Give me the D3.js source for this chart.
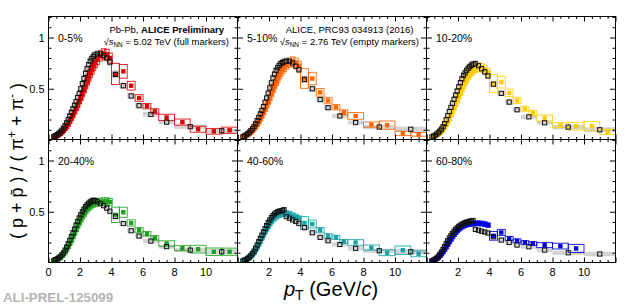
<!DOCTYPE html>
<html>
<head>
<meta charset="utf-8">
<script src="https://cdn.jsdelivr.net/npm/d3@7"></script>
<style>
  body { margin: 0; background: #fff; }
  text { font-family: "Liberation Sans", Arial, Helvetica, sans-serif; }
</style>
</head>
<body>
<div id="chart"></div>
<script>
// centrality classes and colours of the 5.02 TeV points
const centralities = ['0-5%', '5-10%', '10-20%', '20-40%', '40-60%', '60-80%']
const colors502 = ['#dd0000', '#ff6400', '#ffcc00', '#1aa31a', '#17a2a6', '#0000dd']

// 2.76 TeV binning (open black squares)
const pt276 = [0.35,0.45,0.55,0.65,0.75,0.85,0.95,1.05,1.15,1.25,1.35,1.45,1.55,1.65,1.75,1.85,1.95,2.05,2.15,2.25,2.35,2.45,2.55,2.65,2.75,2.85,2.95,
  3.1,3.3,3.5,3.7,3.9, 4.25,4.75,5.25,5.75, 6.5,7.5,9,11]
const bw276 = [0.1,0.1,0.1,0.1,0.1,0.1,0.1,0.1,0.1,0.1,0.1,0.1,0.1,0.1,0.1,0.1,0.1,0.1,0.1,0.1,0.1,0.1,0.1,0.1,0.1,0.1,0.1,
  0.2,0.2,0.2,0.2,0.2, 0.5,0.5,0.5,0.5, 1,1,2,2]
const sys276 = [0.05,0.05,0.05,0.05,0.05,0.05,0.05,0.05,0.05,0.05,0.05,0.05,0.05,0.05,0.05,0.05,0.05,0.05,0.05,0.05,0.05,0.05,0.05,0.05,0.05,0.05,0.05,
  0.05,0.05,0.05,0.05,0.05, 0.06,0.06,0.07,0.08, 0.09,0.12,0.17,0.24]

// 5.02 TeV binning (full coloured squares)
const pt502 = [0.35,0.45,0.55,0.65,0.75,0.85,0.95,1.05,1.15,1.25,1.35,1.45,1.55,1.65,1.75,1.85,1.95,2.05,2.15,2.25,2.35,2.45,2.55,2.65,2.75,2.85,2.95,
  3.1,3.3,3.5,3.7,3.9, 4.25,4.75,5.25,5.75,6.25,6.75, 7.5,8.5,9.5,10.5,11.5]
const bw502 = [0.1,0.1,0.1,0.1,0.1,0.1,0.1,0.1,0.1,0.1,0.1,0.1,0.1,0.1,0.1,0.1,0.1,0.1,0.1,0.1,0.1,0.1,0.1,0.1,0.1,0.1,0.1,
  0.2,0.2,0.2,0.2,0.2, 0.5,0.5,0.5,0.5,0.5,0.5, 1,1,1,1,1]
const sys502 = [0.06,0.06,0.06,0.06,0.06,0.06,0.06,0.06,0.06,0.06,0.06,0.06,0.06,0.06,0.06,0.06,0.06,0.06,0.06,0.06,0.06,0.06,0.06,0.06,0.06,0.06,0.06,
  0.06,0.06,0.06,0.06,0.06, 0.16,0.1,0.08,0.08,0.08,0.09, 0.14,0.17,0.28,0.33,0.32]

// (p + pbar)/(pi+ + pi-) at 2.76 TeV
const ratio276_0005 = [0.035,0.042,0.052,0.064,0.078,0.095,0.115,0.14,0.168,0.2,0.235,0.27,0.305,0.34,0.375,0.415,0.455,0.5,0.55,0.6,0.65,0.695,0.735,0.77,0.795,0.815,0.83,
  0.84,0.84,0.825,0.8,0.76, 0.64,0.53,0.43,0.335, 0.25,0.175,0.13,0.09]
const ratio276_0510 = [0.032,0.04,0.05,0.062,0.076,0.092,0.11,0.132,0.158,0.19,0.22,0.255,0.288,0.325,0.368,0.41,0.458,0.508,0.558,0.605,0.643,0.678,0.705,0.728,0.745,0.755,0.763,
  0.77,0.768,0.752,0.72,0.685, 0.59,0.5,0.395,0.315, 0.235,0.17,0.127,0.105]
const ratio276_1020 = [0.03,0.038,0.047,0.058,0.072,0.088,0.106,0.13,0.16,0.198,0.238,0.278,0.318,0.358,0.398,0.438,0.478,0.52,0.56,0.598,0.63,0.655,0.68,0.7,0.715,0.73,0.74,
  0.745,0.725,0.695,0.665,0.625, 0.545,0.455,0.37,0.295, 0.226,0.168,0.126,0.1]
const ratio276_2040 = [0.025,0.032,0.04,0.05,0.062,0.078,0.098,0.125,0.155,0.188,0.222,0.258,0.295,0.33,0.37,0.405,0.44,0.47,0.5,0.525,0.55,0.568,0.583,0.595,0.605,0.612,0.61,
  0.597,0.58,0.56,0.535,0.505, 0.455,0.385,0.315,0.263, 0.214,0.16,0.126,0.11]
const ratio276_4060 = [0.02,0.027,0.035,0.045,0.058,0.073,0.092,0.115,0.145,0.175,0.208,0.24,0.272,0.303,0.335,0.365,0.395,0.42,0.443,0.462,0.478,0.49,0.5,0.505,0.508,0.512,0.52,
  0.452,0.437,0.42,0.405,0.385, 0.345,0.295,0.25,0.217, 0.181,0.142,0.12,0.11]
const ratio276_6080 = [0.02,0.028,0.037,0.048,0.065,0.085,0.108,0.133,0.16,0.19,0.218,0.245,0.268,0.29,0.31,0.327,0.343,0.357,0.368,0.378,0.386,0.393,0.398,0.403,0.408,0.41,0.415,
  0.328,0.32,0.31,0.303,0.293, 0.256,0.224,0.2,0.175, 0.159,0.126,0.1,0.088]

// (p + pbar)/(pi+ + pi-) at 5.02 TeV
const ratio502_0005 = [0.03,0.036,0.044,0.053,0.064,0.077,0.092,0.11,0.13,0.153,0.18,0.21,0.24,0.272,0.305,0.34,0.375,0.41,0.45,0.49,0.53,0.57,0.61,0.65,0.685,0.72,0.75,
  0.785,0.82,0.84,0.835,0.8, 0.645,0.67,0.53,0.41,0.33,0.28, 0.22,0.175,0.105,0.085,0.095]
const ratio502_0510 = [0.028,0.034,0.042,0.051,0.062,0.075,0.09,0.108,0.128,0.15,0.175,0.203,0.233,0.265,0.298,0.333,0.37,0.41,0.45,0.49,0.53,0.565,0.6,0.635,0.665,0.69,0.71,
  0.735,0.755,0.765,0.755,0.725, 0.6,0.6,0.465,0.385,0.32,0.27, 0.235,0.15,0.145,0.065,0.055]
const ratio502_1020 = [0.027,0.033,0.04,0.049,0.06,0.073,0.088,0.106,0.127,0.15,0.177,0.207,0.24,0.275,0.31,0.348,0.386,0.425,0.463,0.5,0.535,0.567,0.597,0.625,0.65,0.67,0.685,
  0.7,0.71,0.705,0.69,0.66, 0.55,0.565,0.46,0.385,0.305,0.265, 0.215,0.145,0.135,0.135,0.08]
const ratio502_2040 = [0.023,0.029,0.036,0.045,0.056,0.07,0.087,0.108,0.133,0.16,0.19,0.222,0.256,0.29,0.325,0.36,0.393,0.425,0.455,0.482,0.507,0.528,0.546,0.561,0.573,0.582,0.588,
  0.593,0.597,0.6,0.6,0.595, 0.47,0.495,0.39,0.32,0.285,0.245, 0.19,0.145,0.135,0.11,0.11]
const ratio502_4060 = [0.02,0.026,0.033,0.042,0.053,0.067,0.084,0.104,0.128,0.155,0.183,0.213,0.243,0.273,0.303,0.332,0.36,0.385,0.408,0.428,0.445,0.458,0.468,0.475,0.48,0.483,0.484,
  0.482,0.475,0.462,0.45,0.435, 0.39,0.38,0.32,0.265,0.25,0.21, 0.2,0.15,0.1,0.125,0.09]
const ratio502_6080 = [0.018,0.025,0.033,0.043,0.056,0.071,0.089,0.11,0.133,0.157,0.182,0.207,0.232,0.255,0.277,0.297,0.315,0.331,0.344,0.355,0.364,0.371,0.376,0.38,0.383,0.385,0.386,
  0.388,0.388,0.385,0.38,0.37, 0.265,0.298,0.24,0.217,0.2,0.19, 0.175,0.165,0.142]

// axis ticks
const xMajor = [0, 2, 4, 6, 8, 10, 12]
const xMinor = d3.range(0.5, 12, 0.5).filter(v => v % 2 !== 0)
const xLabelsFirst = [0, 2, 4, 6, 8, 10]
const xLabelsOther = [2, 4, 6, 8, 10]
const yMajor = [0.5, 1]
const yMinor = [0.1, 0.2, 0.3, 0.4, 0.6, 0.7, 0.8, 0.9, 1.1, 1.2]
const yLabels = [0.5, 1]

const ratios276 = [ratio276_0005, ratio276_0510, ratio276_1020, ratio276_2040, ratio276_4060, ratio276_6080]
const ratios502 = [ratio502_0005, ratio502_0510, ratio502_1020, ratio502_2040, ratio502_4060, ratio502_6080]

const panelW = 189
const panelH = 123
const colX = [48.5, 237.5, 426.5]
const rowY = [16.5, 139.5]

const svg = d3.select('#chart')
  .append('svg')
  .attr('width', 639)
  .attr('height', 307)

const x = d3.scaleLinear().domain([0, 12]).range([0, panelW])
const y = d3.scaleLinear().domain([0.005, 1.205]).range([panelH, 0])

svg.append('clipPath').attr('id', 'clip')
  .append('rect').attr('width', panelW).attr('height', panelH)

function box(d, minHalf) {
  const half = Math.max(d.v * d.s, minHalf)
  const w = Math.max(d.w, 0.3)
  return {
    x: x(d.pt - w / 2),
    y: y(d.v + half),
    width: x(w) - x(0),
    height: y(d.v - half) - y(d.v + half)
  }
}

centralities.forEach((cent, i) => {
  const col = i % 3
  const row = Math.floor(i / 3)
  const g = svg.append('g').attr('transform', `translate(${colX[col]},${rowY[row]})`)
  const plot = g.append('g').attr('clip-path', 'url(#clip)')

  const black = ratios276[i].map((v, j) => ({ pt: pt276[j], v: v, w: bw276[j], s: sys276[j] }))
  const coloured = ratios502[i].map((v, j) => ({ pt: pt502[j], v: v, w: bw502[j], s: sys502[j] }))
  const colour = colors502[i]

  // systematic bands of 2.76 TeV
  plot.selectAll('.sys276')
    .data(black)
    .enter()
    .append('rect')
    .attr('class', 'sys276')
    .each(function(d) {
      const b = box(d, 0.02)
      d3.select(this).attr('x', b.x).attr('y', b.y).attr('width', b.width).attr('height', b.height)
    })
    .attr('fill', '#d4d4d4')

  // systematic boxes of 5.02 TeV
  plot.selectAll('.sys502')
    .data(coloured)
    .enter()
    .append('rect')
    .attr('class', 'sys502')
    .each(function(d) {
      const b = box(d, 0.018)
      d3.select(this).attr('x', b.x).attr('y', b.y).attr('width', b.width).attr('height', b.height)
    })
    .attr('fill', 'none')
    .attr('stroke', colour)
    .attr('stroke-width', 1)
    .attr('opacity', 0.85)

  plot.selectAll('.pt502')
    .data(coloured)
    .enter()
    .append('rect')
    .attr('class', 'pt502')
    .attr('x', d => x(d.pt) - 2.2)
    .attr('y', d => y(d.v) - 2.2)
    .attr('width', 4.4)
    .attr('height', 4.4)
    .attr('fill', colour)

  plot.selectAll('.pt276')
    .data(black)
    .enter()
    .append('rect')
    .attr('class', 'pt276')
    .attr('x', d => x(d.pt) - 2.1)
    .attr('y', d => y(d.v) - 2.1)
    .attr('width', 4.2)
    .attr('height', 4.2)
    .attr('fill', 'none')
    .attr('stroke', '#111')
    .attr('stroke-width', 1)

  // ticks on all four sides, pointing inwards
  const noLabel = () => ''
  const strip = sel => sel.select('.domain').remove()
  g.append('g').attr('transform', `translate(0,${panelH})`)
    .call(d3.axisBottom(x).tickValues(xMajor).tickSize(-5).tickFormat(noLabel)).call(strip)
  g.append('g').attr('transform', `translate(0,${panelH})`)
    .call(d3.axisBottom(x).tickValues(xMinor).tickSize(-2.5).tickFormat(noLabel)).call(strip)
  g.append('g')
    .call(d3.axisTop(x).tickValues(xMajor).tickSize(-5).tickFormat(noLabel)).call(strip)
  g.append('g')
    .call(d3.axisTop(x).tickValues(xMinor).tickSize(-2.5).tickFormat(noLabel)).call(strip)
  g.append('g')
    .call(d3.axisLeft(y).tickValues(yMajor).tickSize(-5.5).tickFormat(noLabel)).call(strip)
  g.append('g')
    .call(d3.axisLeft(y).tickValues(yMinor).tickSize(-3).tickFormat(noLabel)).call(strip)
  g.append('g').attr('transform', `translate(${panelW},0)`)
    .call(d3.axisRight(y).tickValues(yMajor).tickSize(-5.5).tickFormat(noLabel)).call(strip)
  g.append('g').attr('transform', `translate(${panelW},0)`)
    .call(d3.axisRight(y).tickValues(yMinor).tickSize(-3).tickFormat(noLabel)).call(strip)
  g.selectAll('.tick line').attr('stroke', '#000')

  g.append('rect')
    .attr('width', panelW)
    .attr('height', panelH)
    .attr('fill', 'none')
    .attr('stroke', '#000')
    .attr('stroke-width', 1)

  if (row === 1) {
    g.selectAll('.xlab')
      .data(col === 0 ? xLabelsFirst : xLabelsOther)
      .enter()
      .append('text')
      .attr('class', 'xlab')
      .attr('x', d => x(d))
      .attr('y', panelH + 13)
      .attr('text-anchor', 'middle')
      .attr('font-size', 11)
      .text(d => d)
  }
  if (col === 0) {
    g.selectAll('.ylab')
      .data(yLabels)
      .enter()
      .append('text')
      .attr('class', 'ylab')
      .attr('x', -4)
      .attr('y', d => y(d) + 4)
      .attr('text-anchor', 'end')
      .attr('font-size', 11)
      .text(d => d)
  }

  g.append('text')
    .attr('x', col === 0 ? 9.5 : 9.5)
    .attr('y', 25)
    .attr('font-size', 10.5)
    .text(cent)
})

// energy / reference labels
const info = svg.append('g').attr('font-size', 9.5)
const t1 = info.append('text').attr('x', 224).attr('y', 32.5).attr('text-anchor', 'end')
t1.append('tspan').text('Pb-Pb, ')
t1.append('tspan').attr('font-weight', 'bold').text('ALICE Preliminary')

function sqrtS(sel, energy, note) {
  sel.append('tspan').text('\u221A')
  sel.append('tspan').attr('font-style', 'italic').text('s')
  sel.append('tspan').attr('font-size', 6.5).attr('dy', 2).text('NN')
  sel.append('tspan').attr('dy', -2).text(' = ' + energy + ' TeV (' + note + ')')
}
sqrtS(info.append('text').attr('x', 229).attr('y', 44.5).attr('text-anchor', 'end'), '5.02', 'full markers')
info.append('text').attr('x', 413.5).attr('y', 32.5).attr('text-anchor', 'end').text('ALICE, PRC93 034913 (2016)')
sqrtS(info.append('text').attr('x', 419).attr('y', 44.5).attr('text-anchor', 'end'), '2.76', 'empty markers')

// axis titles
const yTitle = svg.append('text')
  .attr('transform', 'translate(23,161) rotate(-90)')
  .attr('text-anchor', 'middle')
  .attr('font-size', 18)
yTitle.append('tspan').text('( p + p\u0304 ) / ( \u03C0')
yTitle.append('tspan').attr('dy', -7).attr('font-size', 12).text('+')
yTitle.append('tspan').attr('dy', 7).text(' + \u03C0')
yTitle.append('tspan').attr('dy', -7).attr('font-size', 12).text('-')
yTitle.append('tspan').attr('dy', 7).text(' )')

const xTitle = svg.append('text')
  .attr('x', 331)
  .attr('y', 296)
  .attr('text-anchor', 'middle')
  .attr('font-size', 20)
xTitle.append('tspan').attr('font-style', 'italic').text('p')
xTitle.append('tspan').attr('dy', 4).attr('font-size', 14).text('T')
xTitle.append('tspan').attr('dy', -4).text(' (GeV/')
xTitle.append('tspan').attr('font-style', 'italic').text('c')
xTitle.append('tspan').text(')')

svg.append('text')
  .attr('x', 3)
  .attr('y', 302)
  .attr('font-family', '"Liberation Mono", "DejaVu Sans Mono", monospace')
  .attr('font-weight', 'bold')
  .attr('font-size', 13.3)
  .attr('fill', '#b4b4b4')
  .text('ALI-PREL-125099')
</script>
</body>
</html>
